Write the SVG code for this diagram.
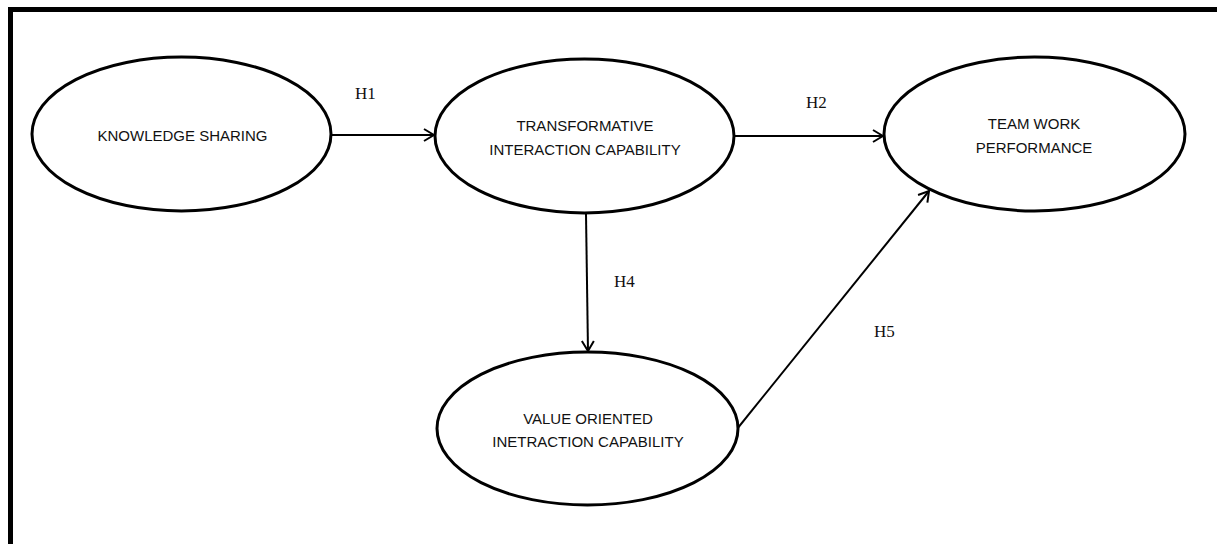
<svg xmlns="http://www.w3.org/2000/svg" width="1217" height="544" viewBox="0 0 1217 544">
  <style>
    .node ellipse { fill: #ffffff; stroke: #000000; stroke-width: 3; }
    .node text { font-family: "Liberation Sans", Arial, sans-serif; font-size: 15px; fill: #111111; text-anchor: middle; }
    .edge { stroke: #000000; stroke-width: 2; fill: none; marker-end: url(#arrow); }
    .label { font-family: "Liberation Serif", "Times New Roman", serif; font-size: 17px; fill: #111111; }
  </style>
  <defs>
    <marker id="arrow" viewBox="0 0 12 14" refX="11" refY="7" markerWidth="12" markerHeight="14" markerUnits="userSpaceOnUse" orient="auto">
      <path d="M1,1 L11,7 L1,13" fill="none" stroke="#000000" stroke-width="2"/>
    </marker>
  </defs>

  <rect x="0" y="0" width="1217" height="544" fill="#ffffff"/>
  <!-- outer frame (only top and left edges fall inside the canvas) -->
  <rect x="10.5" y="9.5" width="1225" height="545" fill="none" stroke="#000000" stroke-width="5"/>

  <g id="connectors">
    <line class="edge" x1="332" y1="135" x2="434" y2="135"/>
    <line class="edge" x1="735" y1="136" x2="883" y2="136"/>
    <line class="edge" x1="586" y1="214" x2="588" y2="351"/>
    <line class="edge" x1="737" y1="429" x2="929" y2="191"/>
  </g>

  <g id="labels">
    <text class="label" x="355" y="99">H1</text>
    <text class="label" x="806" y="108">H2</text>
    <text class="label" x="614" y="287">H4</text>
    <text class="label" x="874" y="337">H5</text>
  </g>

  <g id="knowledge-sharing" class="node">
    <ellipse cx="181.5" cy="134" rx="149.5" ry="77"/>
    <text x="182.5" y="141">KNOWLEDGE SHARING</text>
  </g>

  <g id="transformative-interaction" class="node">
    <ellipse cx="584.5" cy="136" rx="149.5" ry="77"/>
    <text x="585" y="131">TRANSFORMATIVE</text>
    <text x="585" y="155">INTERACTION CAPABILITY</text>
  </g>

  <g id="team-work-performance" class="node">
    <ellipse cx="1034.5" cy="134" rx="150.5" ry="77"/>
    <text x="1034" y="129">TEAM WORK</text>
    <text x="1034" y="153">PERFORMANCE</text>
  </g>

  <g id="value-oriented-interaction" class="node">
    <ellipse cx="587.5" cy="428.5" rx="150.5" ry="76.5"/>
    <text x="588" y="424">VALUE ORIENTED</text>
    <text x="588" y="447">INETRACTION CAPABILITY</text>
  </g>
</svg>
